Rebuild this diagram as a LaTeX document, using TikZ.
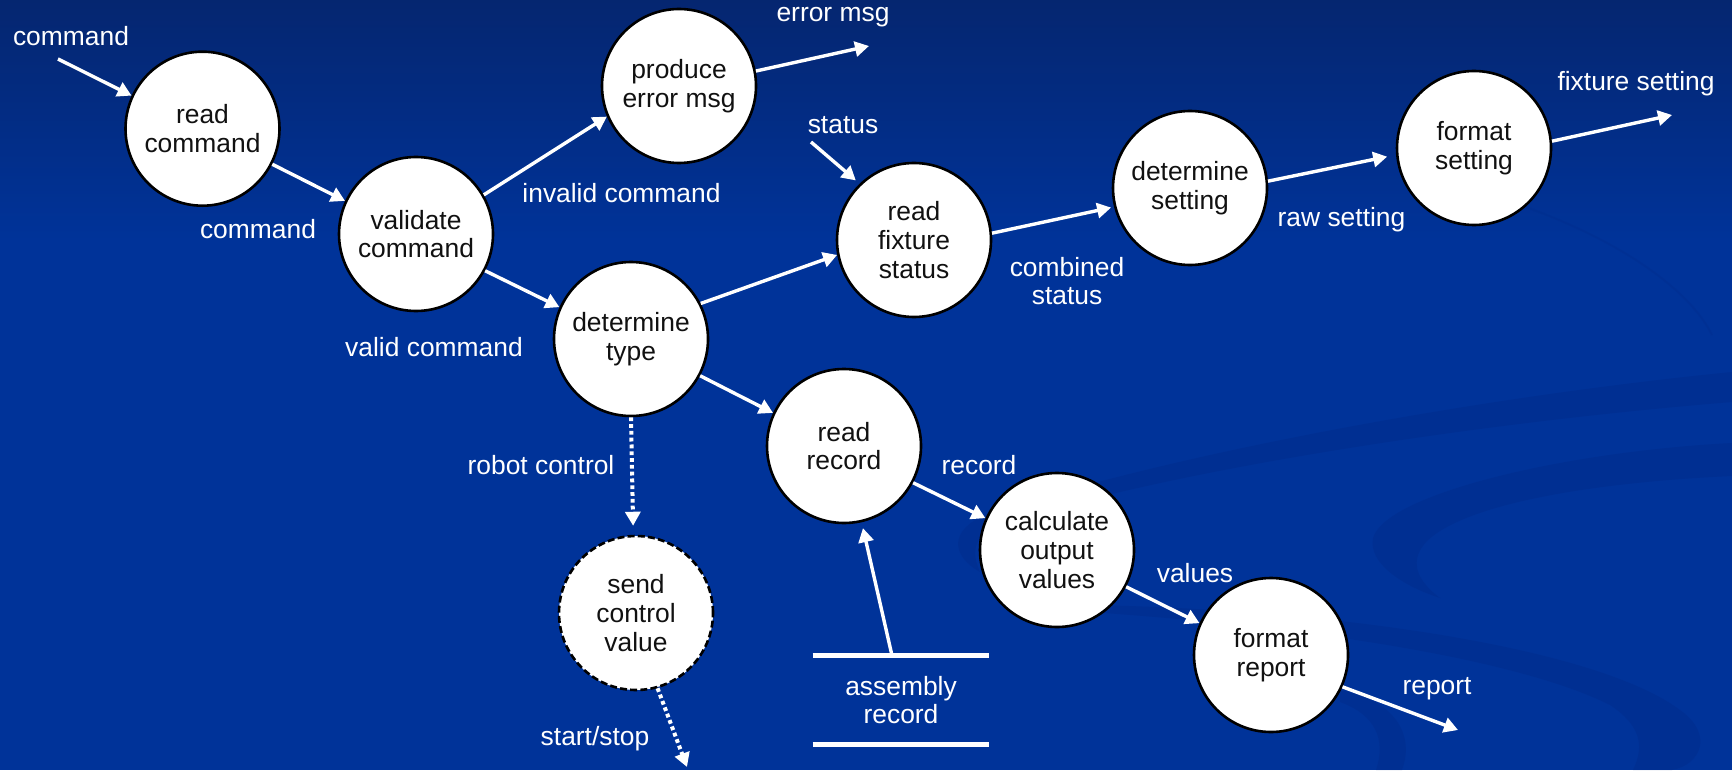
\documentclass[tikz,border=0pt]{standalone}
\usepackage{fontspec}
\setmainfont{Liberation Sans}
\usetikzlibrary{arrows.meta,calc}

\definecolor{bgtop}{RGB}{5,38,112}
\definecolor{bgbase}{RGB}{0,51,153}
\definecolor{swirl}{RGB}{0,42,136}
\definecolor{ink}{RGB}{17,17,17}

\tikzset{
  every node/.style={font=\fontsize{13.2}{14.4}\selectfont},
  proc/.style={circle, draw=black, line width=1.3pt, fill=white, text=ink,
    minimum size=77pt, inner sep=0pt, align=center},
  ctrlproc/.style={proc, dash pattern=on 3.5pt off 1.6pt},
  lbl/.style={text=white, inner sep=0pt, align=center},
  storebox/.style={text=white, inner sep=0pt, align=center,
    minimum width=88pt, minimum height=44pt},
  flow/.style={draw=white, line width=1.7pt, -{Triangle[length=7pt,width=7.5pt]}},
  ctrlflow/.style={draw=white, line width=2pt, dash pattern=on 1.9pt off 1.5pt,
    -{Triangle[length=7pt,width=7.5pt]}},
  storeline/.style={draw=white, line width=2.6pt},
  swirlband/.style={fill=swirl, opacity=0.38},
}

\begin{document}
\begin{tikzpicture}[x=0.5pt,y=-0.5pt]
  % backdrop: deep blue slide with a darker band at the top
  \useasboundingbox (0,0) rectangle (1732,770);
  \fill[bgbase] (0,0) rectangle (1732,770);
  \shade[top color=bgtop, bottom color=bgbase] (0,0) rectangle (1732,240);

  % faint swirls in the lower right of the backdrop
  \path[swirlband] (980,572) .. controls (950,555) and (950,530) .. (985,515)
    .. controls (1150,460) and (1450,400) .. (1732,372) -- (1732,402)
    .. controls (1450,425) and (1150,475) .. (1000,525)
    .. controls (975,535) and (970,550) .. (980,572) -- cycle;
  \path[swirlband] (1732,443) .. controls (1560,452) and (1385,495) .. (1373,538)
    .. controls (1368,562) and (1400,585) .. (1440,598)
    .. controls (1416,580) and (1408,560) .. (1428,540)
    .. controls (1470,502) and (1600,482) .. (1732,476) -- cycle;
  \path[swirlband] (1090,605) .. controls (1350,610) and (1600,650) .. (1680,710)
    .. controls (1715,735) and (1700,765) .. (1672,770) -- (1633,770)
    .. controls (1645,745) and (1640,725) .. (1610,705)
    .. controls (1530,665) and (1350,630) .. (1090,612) -- cycle;
  \path[swirlband] (1340,690) .. controls (1395,700) and (1415,735) .. (1402,770)
    -- (1376,770) .. controls (1386,740) and (1376,715) .. (1340,702) -- cycle;
  \draw[swirl, opacity=0.25, line width=1pt] (1520,205) .. controls (1620,240) and (1690,290) .. (1712,335);

  % processes
  \node[proc] (rcmd)  at (202.5,128.7) {read\\command};
  \node[proc] (vcmd)  at (416,234)  {validate\\command};
  \node[proc] (perr)  at (679,86)   {produce\\error msg};
  \node[proc] (dtype) at (631,339)  {determine\\type};
  \node[proc] (rfs)   at (914,240)  {read\\fixture\\status};
  \node[proc] (dset)  at (1190,188) {determine\\setting};
  \node[proc] (fset)  at (1474,148) {format\\setting};
  \node[proc] (rrec)  at (844,446)  {read\\record};
  \node[proc] (calc)  at (1057,550) {calculate\\output\\values};
  \node[proc] (frep)  at (1271,655) {format\\report};
  \node[ctrlproc] (send) at (636,613) {send\\control\\value};

  % data store
  \node[storebox] (store) at (901,700) {assembly\\record};
  \draw[storeline] (store.north west) -- (store.north east);
  \draw[storeline] (store.south west) -- (store.south east);

  % free ends of external flows
  \coordinate (cmdin)  at (58,59);
  \coordinate (errout) at (869,46);
  \coordinate (statin) at (811,142);
  \coordinate (setout) at (1672,115);
  \coordinate (repout) at (1458,730);
  \coordinate (ssout)  at (687,767);

  % data flows
  \draw[flow] (cmdin) -- (rcmd.155.5);
  \draw[flow] (rcmd.-27) -- (vcmd.155);
  \draw[flow] (vcmd.30) -- (perr.203);
  \draw[flow] (perr.11) -- (errout);
  \draw[flow] (vcmd.-28) -- (dtype.156);
  \draw[flow] (dtype.27) -- (rfs.191);
  \draw[flow, shorten >=2.5pt] (statin) -- (rfs.134);
  \draw[flow, shorten >=1.5pt] (rfs.5) -- (dset.194);
  \draw[flow, shorten >=4.5pt] (dset.5.6) -- (fset.185);
  \draw[flow] (fset.5) -- (setout);
  \draw[flow] (dtype.-28) -- (rrec.155);
  \draw[flow] (rrec.-28) -- (calc.156.5);
  \draw[flow] (calc.-28) -- (frep.156.5);
  \draw[flow] (frep.-24.6) -- (repout);
  \draw[flow, shorten >=3pt] ([xshift=-4.5pt]store.north) -- (rrec.-77.5);

  % control flows
  \draw[ctrlflow, shorten >=4.5pt] (dtype.south) -- (send.92);
  \draw[ctrlflow] (send.-74) -- (ssout);

  % flow labels
  \node[lbl] (lcmdin)  at (71,36)      {command};
  \node[lbl] (lcmd)    at (258,229)    {command};
  \node[lbl] (linv)    at (621.5,193)  {invalid command};
  \node[lbl] (lerr)    at (833,17)     {error msg};
  \node[lbl] (lstat)   at (843,125)    {status};
  \node[lbl] (lvalid)  at (434,347)    {valid command};
  \node[lbl] (lcomb)   at (1067,281)   {combined\\status};
  \node[lbl] (lraw)    at (1341.5,220) {raw setting};
  \node[lbl] (lfix)    at (1636,84)    {fixture setting};
  \node[lbl] (lrobot)  at (541,465)    {robot control};
  \node[lbl] (lss)     at (595,739)    {start/stop};
  \node[lbl] (lrec)    at (979,465)    {record};
  \node[lbl] (lval)    at (1195,573)   {values};
  \node[lbl] (lrep)    at (1437,689)   {report};
\end{tikzpicture}
\end{document}
